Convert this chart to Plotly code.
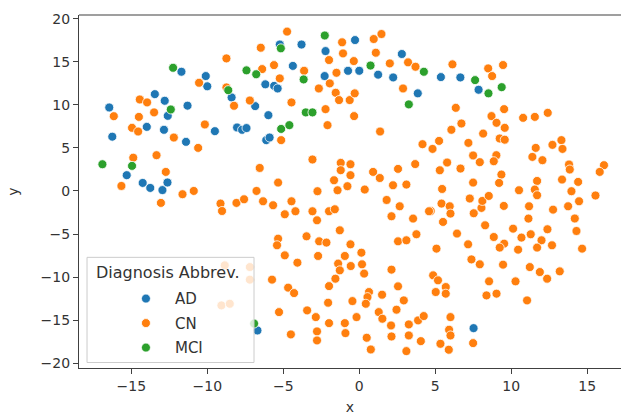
import plotly.graph_objects as go

# AD points
ad_x = [-16.45, -16.25, -15.3, -14.25, -13.75, -13.98, -13.45, -12.8, -12.6, -12.85, -12.95, -12.62,
        -11.7, -11.3, -11.4, -10.1, -10.0, -9.5, -8.4, -8.04, -7.71, -7.42, -6.85, -6.18, -5.6, -5.37,
        -5.98, -6.12, -5.9, -5.23, -4.37, -3.8, -2.22, -2.28, -0.28, -0.74, 0.0, 1.24, 2.23, 2.8,
        3.85, 5.37, 6.65, 7.85, 7.52, -6.7]
ad_y = [9.69, 6.3, 1.83, 0.93, 0.35, 7.44, 11.24, 10.47, 8.72, 7.1, 0.1, 0.98,
        13.84, 9.9, 5.7, 13.34, 12.15, 6.94, 10.86, 7.37, 7.1, 7.3, 9.85, 12.38, 12.2, 11.9,
        8.8, 5.9, 6.2, 17.0, 14.52, 17.0, 16.24, 13.34, 17.52, 13.95, 13.95, 13.5, 13.18, 15.9,
        11.33, 13.22, 13.18, 11.75, -15.93, -16.2]

# MCI points
mci_x = [-16.9, -14.95, -12.4, -12.25, -8.62, -7.42, -6.78, -5.16, -5.14, -4.6, -3.66, -3.52, -3.08,
         -2.27, 0.74, 4.25, 3.26, 7.62, 8.5, 9.37, -6.92]
mci_y = [3.1, 2.91, 9.46, 14.3, 11.7, 14.0, 13.55, 16.56, 7.2, 7.64, 12.95, 9.12, 9.12,
         18.05, 14.56, 13.84, 10.05, 12.87, 11.33, 12.05, -15.4]

# CN points
cn_x = [
    # upper left
    -16.15, -15.65, -14.95, -14.55, -14.5, -14.44, -13.96, -14.87, -13.5, -13.34, -13.05, -12.73,
    -12.2, -11.63, -10.89, -10.54, -10.6, -10.16, -8.74, -8.24, -8.74, -9.13, -9.03, -8.08, -7.58,
    -7.2, -6.48, -6.39, -6.55, -6.76, -6.33, -5.61, -5.23, -5.14, -5.34, -5.67, -4.9, -4.46, -4.75,
    -4.46, -4.2, -3.63,
    # middle top
    -2.66, -2.22, -2.09, -1.94, -1.99, -1.5, -1.55, -1.33, -1.13, -1.07, -0.63, -0.3, -0.34, -0.36,
    0.95, 1.46, 1.09, 1.37, 2.01, 2.88, 3.21, 3.7,
    # upper right
    6.13, 8.48, 9.46, 8.74, 6.35, 9.53, 10.78, 11.55, 12.4, 8.7, 9.03, 9.57, 6.72, 6.06, 8.15, 9.24,
    9.57, 7.18, 4.16, 4.82, 5.25, 7.49, 7.93, 9.02, 8.85, 5.78, 5.3, 6.66, 3.68, 2.55, 7.49, 9.35,
    9.2, 11.61, 11.39, 12.05, 12.71, 13.3, 13.37, 13.8, 13.85, 13.34, 14.4, 13.96, 16.1, 15.82,
    15.54, 11.7, 11.55, 11.7, 10.51, 9.51, 13.74, 14.46, 12.75, 11.17, 11.13, 14.18, 14.29, 14.66,
    12.38, 11.99, 11.28, 10.67, 10.12, 11.7, 12.68, 10.45, 9.53, 9.24, 8.85, 8.28, 8.04, 8.1, 8.52,
    7.27, 7.53, 5.45, 5.41, 5.95, 6.0, 4.7, 5.51, 6.43, 7.16, 5.08, 7.38,
    # middle
    -3.08, -1.22, -0.58, -1.22, -0.58, 0.91, 1.35, -1.66, -0.78, -1.43, 0.36, 2.22, 3.1, -2.75,
    -3.08, -2.78, -1.99, -1.61, 1.8, 2.12, 2.66, 3.54, 4.59, -3.47, -5.34, -5.41, -2.64, -2.16,
    -1.28, -0.58, 0.14, -0.95, -2.71, -4.9, 2.55, 3.1, 3.76,
    # lower
    -4.07, -1.39, -1.28, -1.57, -1.99, -0.56, 0.18, 0.32, 2.12, -5.74, -4.68, -4.29, -2.05, -0.45,
    0.64, 0.54, 0.43, 1.5, 2.55, 2.93, 2.45, 1.28, 1.52, 2.09, 2.12, 3.26, 3.26, 3.1, 3.87, 4.24,
    4.05, -5.28, -3.43, -2.86, -2.78, -2.78, -1.99, -0.95, -0.91, -0.18, 0.49, 0.76, -4.5,
    7.93, 9.46, 11.22, 11.88, 12.36, 13.19, 8.54, 10.28, 11.04, 8.37, 9.03, 4.86, 5.18, 5.69, 5.69,
    5.03, 6.0, 5.91, 6.0, 5.34, 5.89, 7.49,
    # behind legend
    -8.85, -7.2, -7.2, -9.07, -8.52,
]
cn_y = [
    8.68, 0.58, 7.33, 6.9, 8.6, 10.62, 10.28, 3.86, 9.12, 4.15, -1.39, 2.21,
    6.2, -0.38, 0.0, 12.56, 5.0, 7.72, 15.39, 9.89, 12.02, -1.47, -2.33, -1.39, -0.97,
    10.5, 16.63, 14.15, 2.67, 0.0, -1.2, 14.61, 13.07, 5.9, 0.97, -1.66, -2.71, 10.28, 18.5,
    -1.2, -2.36, 13.95,
    11.9, 9.5, 7.64, 12.49, 15.2, 13.72, 11.4, 10.55, 17.26, 15.97, 10.55, 11.33, 8.69, 15.08,
    17.64, 18.22, 16.05, 6.9, 14.81, 11.9, 14.93, 14.42,
    14.7, 14.23, 14.62, 13.34, 9.65, 9.5, 8.49, 8.6, 9.07, 8.69, 7.91, 7.33, 7.83, 7.1, 6.66, 6.09,
    5.95, 5.58, 5.43, 4.88, 5.81, 4.12, 3.34, 4.15, 3.45, 3.3, 2.4, 2.6, 3.12, 2.56, 0.97, 1.9,
    0.93, 5.0, 3.95, 3.57, 5.35, 5.9, 4.88, 3.07, 2.49, 1.32, 1.05, -0.03, 2.99, 2.21,
    -0.53, 1.16, 0.16, -0.5, 0.08, -1.74, -1.78, -1.2, -2.17, -1.78, -3.21, -3.2, -4.65, -6.7,
    -4.45, -5.73, -5.03, -5.42, -4.38, -6.58, -6.31, -6.82, -6.12, -6.58, -5.35, -3.99, -1.97, -1.16, -0.58,
    -0.88, -2.59, 0.23, -1.47, -1.78, -2.63, -2.33, -3.6, -4.95, -6.2, -6.7, -7.95,
    3.65, 3.26, 3.1, 2.41, 1.83, 2.21, 1.5, 1.24, 0.55, 0.08, 0.16, 0.66, 0.74, -0.03,
    -2.36, -3.41, -2.36, -2.13, -1.05, -2.94, -1.78, -3.21, -2.36, -5.27, -5.54, -6.31, -5.85, -6.0,
    -4.57, -6.2, -7.17, -7.55, -7.55, -7.48, -5.85, -5.73, -5.03,
    -8.33, -8.44, -9.22, -10.19, -11.05, -8.72, -8.52, -9.6, -9.14, -10.3, -11.23, -11.86, -12.98, -12.79,
    -11.74, -12.33, -13.1, -12.05, -11.08, -12.71, -13.79, -14.07, -14.84, -15.62, -16.9, -15.5, -16.78, -18.6, -15.03, -14.53,
    -17.44, -14.07, -13.87, -14.65, -16.31, -17.36, -15.35, -15.35, -16.51, -14.65, -17.05, -18.41, -16.66,
    -8.52, -8.56, -8.84, -9.42, -10.19, -9.34, -10.5, -10.5, -12.71, -12.13, -11.93, -9.8, -10.38, -11.16, -11.93,
    -11.74, -14.65, -16.12, -16.78, -17.75, -18.44, -17.67,
    -8.64, -8.84, -10.3, -13.29, -13.1,
]

x_ticks = [-15, -10, -5, 0, 5, 10, 15]
y_ticks = [-20, -15, -10, -5, 0, 5, 10, 15, 20]
legend_title = "Diagnosis Abbrev."

FONT = "DejaVu Sans"
AXC = "#404040"

fig = go.Figure()
marker_common = dict(size=9, line=dict(color="white", width=0.8))
fig.add_trace(go.Scatter(x=ad_x, y=ad_y, mode="markers", name="AD", legendgroup="a",
                         marker=dict(color="#1f77b4", **marker_common)))
fig.add_trace(go.Scatter(x=cn_x, y=cn_y, mode="markers", name="CN", legendgroup="b",
                         marker=dict(color="#ff7f0e", **marker_common)))
fig.add_trace(go.Scatter(x=mci_x, y=mci_y, mode="markers", name="MCI", legendgroup="c",
                         marker=dict(color="#2ca02c", **marker_common)))

fig.update_layout(
    width=621, height=415,
    margin=dict(l=79, r=0, t=15, b=47),
    paper_bgcolor="white", plot_bgcolor="white",
    font=dict(family=FONT, size=14, color="#333333"),
    showlegend=True,
    legend=dict(
        x=0.070, y=0.2427, xanchor="left", yanchor="top",
        bgcolor="rgba(255,255,255,0)", borderwidth=0,
        font=dict(size=15), tracegroupgap=2, itemwidth=48,
    ),
    shapes=[
        dict(type="line", xref="paper", yref="paper", x0=0, x1=1, y0=1, y1=1,
             line=dict(color=AXC, width=1.2)),
        dict(type="rect", xref="paper", yref="paper", x0=0.0148, x1=0.3229, y0=0.0156, y1=0.3135,
             fillcolor="rgba(255,255,255,0.8)", line=dict(color="#cccccc", width=1), layer="above"),
    ],
    annotations=[
        dict(text=legend_title, xref="paper", yref="paper", x=0.1633, y=0.2718,
             xanchor="center", yanchor="middle", showarrow=False, font=dict(size=16)),
    ],
)
fig.update_xaxes(
    range=[-18.44, 17.22], tickmode="array", tickvals=x_ticks,
    showgrid=False, zeroline=False, showline=True, linecolor=AXC, linewidth=1.2,
    ticks="outside", ticklen=5, tickcolor=AXC, tickfont=dict(size=14),
    title=dict(text="x", font=dict(size=14), standoff=9),
)
fig.update_yaxes(
    range=[-20.56, 20.43], tickmode="array", tickvals=y_ticks,
    showgrid=False, zeroline=False, showline=True, linecolor=AXC, linewidth=1.2,
    ticks="outside", ticklen=5, tickcolor=AXC, tickfont=dict(size=14),
    title=dict(text="y", font=dict(size=14), standoff=18),
)

fig.write_html("out.html")
